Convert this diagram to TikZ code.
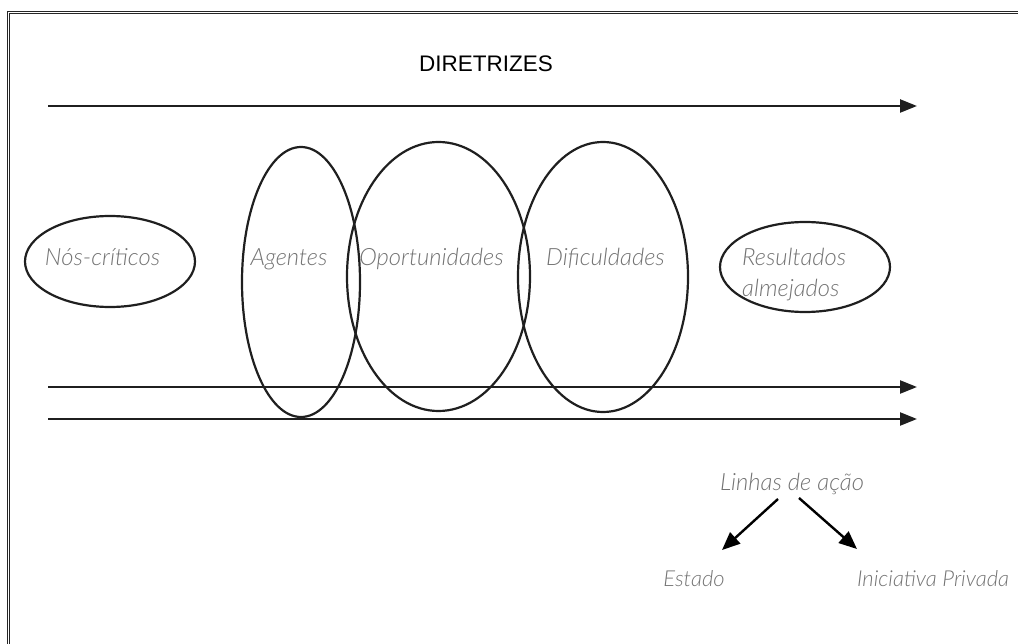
\documentclass[tikz,border=0pt]{standalone}
\usepackage{fontspec}
\setmainfont{Liberation Sans}
\newfontfamily\thinit{Lato Light Italic}
\usetikzlibrary{arrows.meta,shapes.geometric}

\tikzset{
  frameline/.style={line width=1pt,black!85},
  flow/.style={line width=2.4pt,black!88,-{Triangle[length=17pt,width=13pt]}},
  branch/.style={line width=2.4pt,black,-{Triangle[length=18pt,width=15pt]}},
  ring/.style={draw=black!88,line width=2.2pt,ellipse,inner sep=0pt},
  lbl/.style={font=\thinit\fontsize{23.8}{28}\selectfont,text=black!55,inner sep=0pt,anchor=base},
  lblsmall/.style={lbl,font=\thinit\fontsize{22}{26}\selectfont},
  title/.style={font=\fontsize{22.5}{26}\selectfont,text=black,inner sep=0pt,anchor=base}
}

\begin{document}
\begin{tikzpicture}[x=1pt,y=-1pt]
\useasboundingbox (0,0) rectangle (1018,644);

% double frame along the left and top edges
\draw[frameline] (7.2,644) -- (7.2,11.3) -- (1018,11.3);
\draw[frameline] (9.6,644) -- (9.6,13.8) -- (1018,13.8);

% heading and its arrow
\node[title] (dir) at (486,72) {DIRETRIZES};
\coordinate (t0) at (48,106);
\coordinate (t1) at (917,106);
\draw[flow] (t0) -- (t1);

% the two lower arrows
\coordinate (a0) at (48,387);
\coordinate (a1) at (917,387);
\coordinate (b0) at (48,419);
\coordinate (b1) at (917,419);
\draw[flow] (a0) -- (a1);
\draw[flow] (b0) -- (b1);

% ellipses
\node[ring,minimum width=170pt,minimum height=91pt] (nos) at (110,261.5) {};
\node[ring,minimum width=118pt,minimum height=270pt] (age) at (301,282) {};
\node[ring,minimum width=183pt,minimum height=269pt] (opo) at (438.5,276.5) {};
\node[ring,minimum width=170pt,minimum height=270pt] (dif) at (603,277) {};
\node[ring,minimum width=170pt,minimum height=90pt] (res) at (805,267) {};

% labels
\node[lbl] (lnos) at (102.5,266) {Nós-críticos};
\node[lbl] (lage) at (289,266) {Agentes};
\node[lbl] (lopo) at (431.5,266) {Oportunidades};
\node[lbl] (ldif) at (605.5,266) {Dificuldades};
\node[lbl,anchor=base west] (lres1) at (742,266) {Resultados};
\node[lbl,anchor=base west] (lres2) at (742,297) {almejados};

% lines of action
\node[lbl] (lin) at (792,490) {Linhas de ação};
\node[lblsmall] (est) at (694,586) {Estado};
\node[lblsmall] (ini) at (933,586) {Iniciativa Privada};
\coordinate (s1) at (778,499);
\coordinate (s2) at (799,498);
\coordinate (e1) at (722,550);
\coordinate (e2) at (857,549);
\draw[branch] (s1) -- (e1);
\draw[branch] (s2) -- (e2);
\end{tikzpicture}
\end{document}
